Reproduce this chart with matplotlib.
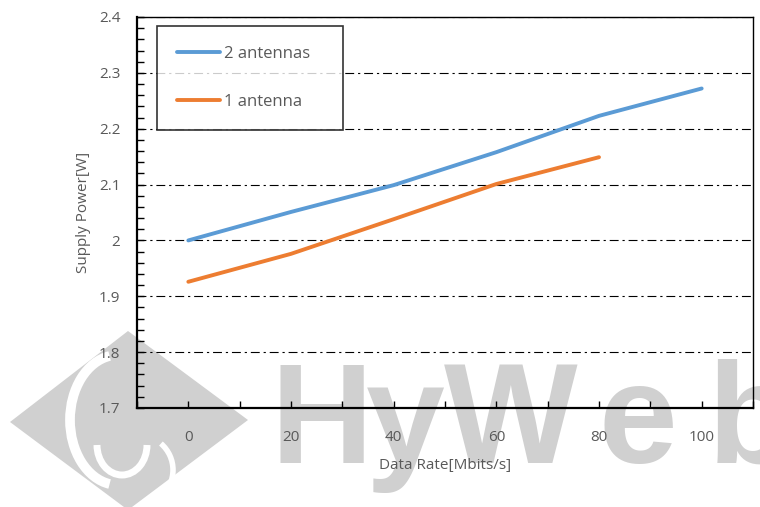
import matplotlib.pyplot as plt
from matplotlib.patches import Polygon, Arc

# data
rate = [0, 20, 40, 60, 80, 100]
power_2ant = [2.0, 2.051, 2.099, 2.158, 2.223, 2.272]
rate_1ant = [0, 20, 40, 60, 80]
power_1ant = [1.926, 1.976, 2.038, 2.101, 2.149]

blue = '#5b9bd5'
orange = '#ed7d31'
grey = '#595959'

plt.rcParams['font.family'] = ['Open Sans', 'DejaVu Sans']

fig = plt.figure(figsize=(7.6, 5.07), dpi=100)
W, H = 760, 507

def fx(px):
    return px / W

def fy(py):
    return 1 - py / H

ax = fig.add_axes([fx(137), fy(408), (753 - 137) / W, (408 - 17) / H])
ax.set_zorder(1)
ax.patch.set_alpha(0)

ax.plot(rate, power_2ant, color=blue, lw=2.8, solid_capstyle='round', label='2 antennas   ')
ax.plot(rate_1ant, power_1ant, color=orange, lw=2.8, solid_capstyle='round', label='1 antenna')

ax.set_xlim(-10, 110)
ax.set_ylim(1.7, 2.4)
ax.set_xticks(range(0, 101, 20))
ax.set_xticks(range(-10, 111, 10), minor=True)
ax.set_yticks([1.7, 1.8, 1.9, 2.0, 2.1, 2.2, 2.3, 2.4])
ax.set_yticklabels(['1.7', '1.8', '1.9', '2', '2.1', '2.2', '2.3', '2.4'])
ax.set_yticks([1.7 + 0.02 * i for i in range(36)], minor=True)
ax.tick_params(which='both', direction='in', colors='black', labelcolor=grey, labelsize=11)
ax.tick_params(which='both', length=5, width=1)
ax.tick_params(axis='x', which='both', pad=16)
ax.tick_params(axis='y', which='both', pad=12)
ax.grid(True, axis='y', which='major', color='black', linestyle=(0, (8, 3.5, 2, 3.5)), lw=0.8)

for side in ['left', 'bottom']:
    ax.spines[side].set_linewidth(1.6)
for side in ['top', 'right']:
    ax.spines[side].set_linewidth(1.0)

ax.set_xlabel('Data Rate[Mbits/s]', color=grey, fontsize=11, labelpad=9)
ax.set_ylabel('Supply Power[W]', color=grey, fontsize=11, labelpad=6)

leg = ax.legend(loc='upper left', bbox_to_anchor=((157 - 137) / 616, 1 - 9 / 391),
                fontsize=12, frameon=True, fancybox=False, edgecolor='black',
                handlelength=2.6, labelspacing=1.9, borderpad=1.2, handletextpad=0.2,
                borderaxespad=0)
leg.get_frame().set_linewidth(1.2)
for t in leg.get_texts():
    t.set_color(grey)

# watermark (HyWeb logo)
wm = '#d0d0d0'
diamond = Polygon([(fx(128), fy(331)), (fx(248), fy(420)), (fx(128), fy(510)), (fx(10), fy(422))],
                  closed=True, transform=fig.transFigure, facecolor=wm,
                  edgecolor='none', zorder=0.5)
fig.patches.append(diamond)
arcs = [
    ((118, 420), 96, 130, 95, 265, 7),
    ((122, 445), 50, 60, 180, 360, 5),
    ((138, 470), 70, 70, 300, 60, 4),
]
for (cx, cy), w, h, t1, t2, lw in arcs:
    fig.patches.append(Arc((fx(cx), fy(cy)), w / W, h / H, theta1=t1, theta2=t2,
                           transform=fig.transFigure, color='white', lw=lw, zorder=0.6))

letters = ['H', 'y', 'W', 'e', 'b']
letter_x = [270, 366, 444, 598, 708]
for ch, px in zip(letters, letter_x):
    fig.text(fx(px), fy(463), ch, fontsize=102, fontweight='bold', family='Liberation Sans',
             color=wm, ha='left', va='baseline', zorder=0.5)

fig.savefig('out.png', dpi=100)
